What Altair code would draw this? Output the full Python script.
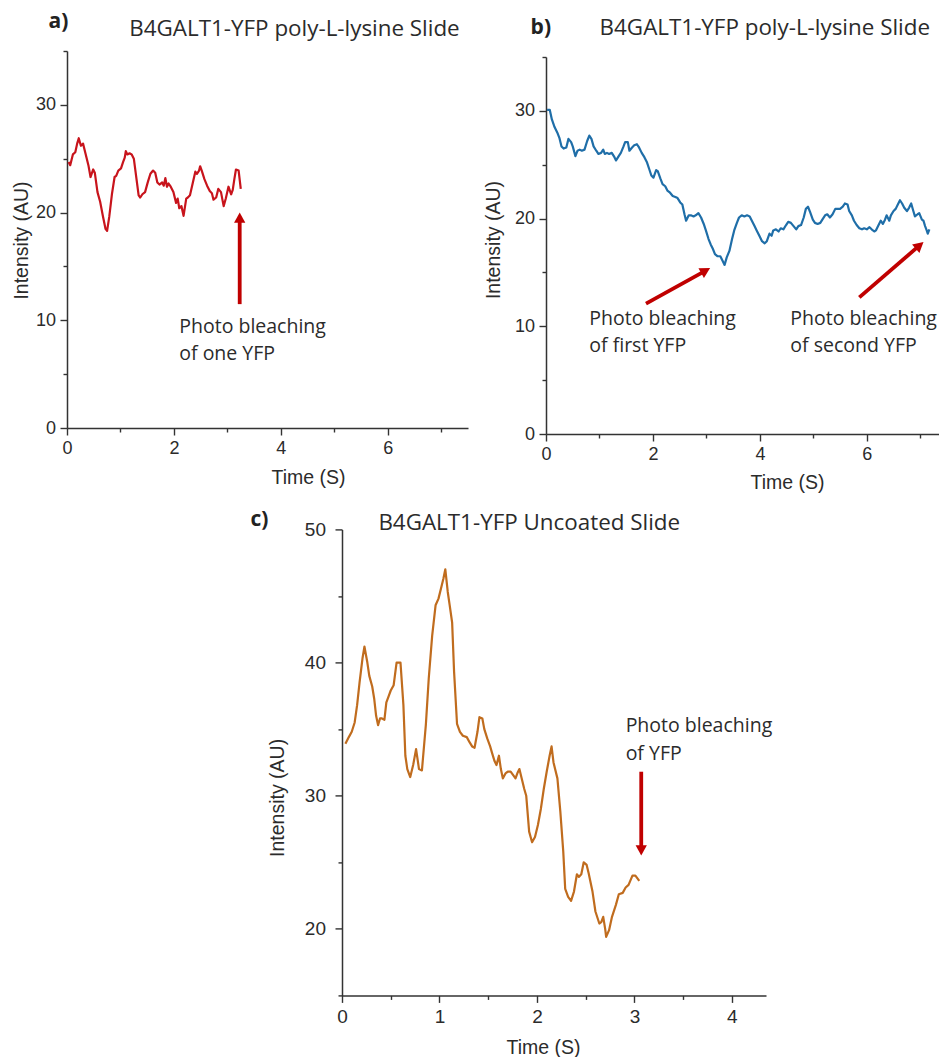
import math
import altair as alt
import pandas as pd

# ---------------- data ----------------
TITLE_AB = "B4GALT1-YFP poly-L-lysine Slide"
TITLE_C = "B4GALT1-YFP Uncoated Slide"

a_time = [0.03, 0.06, 0.11, 0.155, 0.19, 0.22, 0.26, 0.30, 0.34, 0.40,
          0.44, 0.49, 0.52, 0.57, 0.62, 0.67, 0.72, 0.75, 0.79, 0.84,
          0.89, 0.92, 0.96, 1.01, 1.05, 1.08, 1.10, 1.13, 1.17, 1.21,
          1.25, 1.30, 1.34, 1.37, 1.41, 1.46, 1.51, 1.56, 1.61, 1.65,
          1.69, 1.73, 1.78, 1.81, 1.84, 1.87, 1.90, 1.94, 1.99, 2.04,
          2.07, 2.10, 2.14, 2.18, 2.23, 2.26, 2.30, 2.35, 2.40, 2.43,
          2.47, 2.49, 2.52, 2.57, 2.62, 2.67, 2.71, 2.74, 2.79, 2.83,
          2.88, 2.93, 2.97, 3.02, 3.07, 3.10, 3.13, 3.16, 3.21, 3.25]
a_int = [24.7, 24.4, 25.4, 25.6, 26.4, 26.9, 26.2, 26.4, 25.6, 24.4,
         23.3, 24.0, 23.7, 21.9, 21.0, 19.7, 18.5, 18.3, 19.6, 21.7,
         23.3, 23.4, 23.9, 24.1, 24.7, 25.1, 25.7, 25.4, 25.5, 25.4,
         25.0, 23.1, 21.6, 21.4, 21.7, 21.9, 22.8, 23.6, 23.9, 23.7,
         22.8, 22.6, 22.8, 22.5, 23.2, 22.4, 22.7, 22.4, 21.9, 20.9,
         21.3, 20.4, 20.6, 19.7, 21.3, 21.4, 21.6, 22.7, 23.8, 23.6,
         23.9, 24.3, 23.9, 23.1, 22.5, 22.0, 21.8, 21.2, 21.4, 22.2,
         21.9, 20.6, 21.3, 22.4, 21.7, 22.1, 23.1, 24.0, 23.9, 22.2]

b_time = [0.02, 0.07, 0.11, 0.16, 0.21, 0.25, 0.29, 0.33, 0.38, 0.42,
          0.47, 0.50, 0.55, 0.59, 0.63, 0.67, 0.72, 0.77, 0.81, 0.85,
          0.89, 0.94, 0.98, 1.03, 1.07, 1.10, 1.14, 1.18, 1.23, 1.28,
          1.31, 1.36, 1.40, 1.45, 1.48, 1.53, 1.56, 1.61, 1.65, 1.70,
          1.74, 1.79, 1.84, 1.89, 1.93, 1.97, 2.01, 2.06, 2.09, 2.14,
          2.18, 2.23, 2.27, 2.32, 2.37, 2.42, 2.46, 2.51, 2.55, 2.59,
          2.62, 2.67, 2.71, 2.76, 2.80, 2.85, 2.90, 2.95, 2.99, 3.04,
          3.08, 3.12, 3.16, 3.21, 3.26, 3.30, 3.34, 3.38, 3.43, 3.48,
          3.52, 3.57, 3.61, 3.66, 3.71, 3.76, 3.81, 3.85, 3.90, 3.94,
          3.99, 4.04, 4.09, 4.13, 4.18, 4.22, 4.25, 4.30, 4.35, 4.39,
          4.44, 4.49, 4.53, 4.58, 4.63, 4.68, 4.72, 4.77, 4.82, 4.86,
          4.90, 4.94, 4.99, 5.03, 5.08, 5.13, 5.18, 5.22, 5.26, 5.31,
          5.36, 5.41, 5.46, 5.50, 5.55, 5.59, 5.64, 5.67, 5.72, 5.76,
          5.81, 5.86, 5.91, 5.95, 6.00, 6.05, 6.09, 6.14, 6.17, 6.22,
          6.26, 6.30, 6.34, 6.37, 6.42, 6.45, 6.50, 6.54, 6.58, 6.62,
          6.66, 6.70, 6.75, 6.79, 6.83, 6.87, 6.90, 6.95, 6.98, 7.03,
          7.06, 7.09, 7.12, 7.14, 7.17]
b_int = [30.1, 30.1, 29.2, 28.5, 28.0, 27.5, 26.7, 26.5, 26.6, 27.4,
         27.1, 26.7, 25.8, 26.3, 26.4, 26.3, 26.4, 27.2, 27.7, 27.4,
         26.7, 26.3, 26.0, 26.1, 26.4, 26.0, 26.1, 26.0, 26.1, 25.7,
         25.4, 25.8, 26.1, 26.7, 27.1, 27.1, 26.3, 26.6, 26.8, 26.9,
         26.6, 26.1, 25.7, 25.2, 24.6, 24.0, 23.8, 24.5, 24.4, 23.7,
         23.2, 23.0, 22.6, 22.4, 22.1, 22.0, 21.9, 21.5, 21.3, 20.4,
         19.8, 20.3, 20.3, 20.2, 20.3, 20.5, 20.1, 19.5, 18.9, 18.1,
         17.6, 17.2, 16.7, 16.5, 16.5, 16.1, 15.7, 16.4, 17.0, 18.1,
         18.9, 19.6, 20.1, 20.3, 20.2, 20.3, 20.2, 19.8, 19.3, 18.9,
         18.4, 17.9, 17.7, 17.9, 18.6, 18.4, 18.9, 19.0, 18.8, 19.1,
         19.0, 19.4, 19.7, 19.6, 19.3, 19.0, 19.3, 19.4, 20.1, 20.9,
         21.1, 20.6, 19.9, 19.6, 19.5, 19.6, 20.0, 20.3, 20.4, 20.1,
         20.4, 20.9, 20.9, 20.9, 21.1, 21.4, 21.3, 20.7, 20.3, 19.8,
         19.4, 19.1, 19.0, 19.1, 19.0, 19.2, 19.0, 18.8, 18.9, 19.4,
         19.8, 19.5, 19.9, 20.3, 19.8, 20.3, 20.7, 20.9, 21.3, 21.7,
         21.4, 21.0, 20.7, 21.0, 21.4, 20.7, 20.2, 20.4, 20.5, 19.9,
         19.8, 19.3, 18.9, 18.6, 19.0]

c_time = [0.035, 0.07, 0.10, 0.13, 0.155, 0.18, 0.21, 0.23, 0.26, 0.28,
          0.31, 0.33, 0.35, 0.37, 0.39, 0.41, 0.435, 0.455, 0.48, 0.50,
          0.53, 0.56, 0.58, 0.60, 0.63, 0.65, 0.67, 0.70, 0.73, 0.76,
          0.79, 0.82, 0.86, 0.89, 0.925, 0.96, 0.99, 1.02, 1.04, 1.06,
          1.085, 1.105, 1.13, 1.15, 1.18, 1.21, 1.24, 1.28, 1.31, 1.335,
          1.36, 1.39, 1.41, 1.44, 1.46, 1.49, 1.52, 1.54, 1.565, 1.585,
          1.61, 1.63, 1.65, 1.68, 1.70, 1.73, 1.76, 1.78, 1.80, 1.82,
          1.85, 1.87, 1.89, 1.92, 1.95, 1.98, 2.01, 2.04, 2.07, 2.10,
          2.13, 2.15, 2.17, 2.21, 2.24, 2.27, 2.29, 2.32, 2.35, 2.38,
          2.41, 2.43, 2.455, 2.48, 2.51, 2.53, 2.57, 2.60, 2.64, 2.66,
          2.68, 2.70, 2.71, 2.74, 2.77, 2.81, 2.84, 2.88, 2.91, 2.94,
          2.98, 3.01, 3.05]
c_int = [33.9, 34.4, 34.8, 35.5, 36.8, 38.5, 40.3, 41.2, 40.0, 39.0,
         38.2, 37.3, 36.0, 35.3, 35.8, 35.8, 35.7, 37.0, 37.5, 37.9,
         38.3, 40.0, 40.0, 40.0, 36.8, 33.0, 32.0, 31.4, 32.3, 33.5,
         32.0, 31.9, 35.3, 38.8, 42.0, 44.3, 44.8, 45.7, 46.3, 47.0,
         45.3, 44.3, 43.0, 39.3, 35.4, 34.8, 34.5, 34.4, 34.0, 33.7,
         33.6, 34.8, 35.9, 35.8, 35.0, 34.3, 33.7, 33.2, 32.6, 32.3,
         33.0, 32.0, 31.3, 31.7, 31.8, 31.8, 31.5, 31.3, 31.7, 32.0,
         31.1, 30.5, 30.0, 27.3, 26.5, 26.9, 27.8, 29.0, 30.5, 31.8,
         33.0, 33.7, 32.5, 31.3, 28.8, 25.8, 23.0, 22.4, 22.1, 22.8,
         24.1, 23.9, 24.1, 25.0, 24.8, 24.2, 22.8, 21.3, 20.4, 20.5,
         20.9, 20.0, 19.4, 19.9, 20.9, 21.8, 22.6, 22.7, 23.1, 23.3,
         24.0, 24.0, 23.6]

# annotation texts (x, y in data units)
a_note_x = [2.10, 2.10]
a_note_y = [9.40, 6.89]
a_note_txt = ["Photo bleaching", "of one YFP"]
b_note_x = [0.81, 0.81, 4.57, 4.57]
b_note_y = [10.67, 8.19, 10.67, 8.19]
b_note_txt = ["Photo bleaching", "of first YFP", "Photo bleaching", "of second YFP"]
c_note_x = [2.91, 2.91]
c_note_y = [35.25, 33.15]
c_note_txt = ["Photo bleaching", "of YFP"]

# arrows: tail -> tip (data units)
a_arrow_tail = [(3.23, 11.5)]
a_arrow_tip = [(3.23, 20.0)]
b_arrow_tail = [(1.87, 12.1), (5.86, 12.68)]
b_arrow_tip = [(3.07, 15.4), (7.06, 17.83)]
c_arrow_tail = [(3.07, 31.8)]
c_arrow_tip = [(3.07, 25.5)]

# ---------------- styling ----------------
TEXT_FONT = "Open Sans"
AXIS_FONT = "Liberation Sans"
INK = "#2b2b2b"
AXIS_INK = "#333333"
RED = "#c00000"
HEAD = "M0,0L-0.55,1L0.55,1Z"
HEAD_SIZE = 420  # scale = sqrt(size)/2 px per path unit
HEAD_LEN = math.sqrt(HEAD_SIZE) / 2


def make_axis(values, major_test, title, label_size, label_pad, title_x, title_y, is_y):
    return alt.Axis(
        values=values,
        format=".0f",
        labelExpr=f"({major_test}) ? datum.label : ''",
        tickSize={"condition": {"test": major_test, "value": 7}, "value": 4},
        tickWidth=1.4,
        tickColor=AXIS_INK,
        domainColor=AXIS_INK,
        domainWidth=1.5,
        grid=False,
        labelFont=AXIS_FONT,
        labelFontSize=label_size,
        labelColor=INK,
        labelPadding=label_pad,
        labelFlush=False,
        labelOverlap=False,
        title=title,
        titleFont=AXIS_FONT,
        titleFontSize=19.5,
        titleFontWeight="normal",
        titleColor=INK,
        titleX=title_x,
        titleY=title_y,
        titleAlign="center",
        titleBaseline="middle",
        titleAngle=270 if is_y else 0,
    )


def panel(t, v, color, xdom, ydom, w, h, xaxis, yaxis, notes, tails, tips,
          title_text, title_dx, title_dy, tag, tag_dx, tag_dy):
    xs = alt.Scale(domain=xdom, nice=False, zero=False)
    ys = alt.Scale(domain=ydom, nice=False, zero=False)
    line = alt.Chart(pd.DataFrame({"t": t, "v": v})).mark_line(
        color=color, strokeWidth=2.2, strokeJoin="round"
    ).encode(
        x=alt.X("t:Q", scale=xs, axis=xaxis),
        y=alt.Y("v:Q", scale=ys, axis=yaxis),
    )
    nx, ny, nt = notes
    text = alt.Chart(pd.DataFrame({"t": nx, "v": ny, "label": nt})).mark_text(
        align="left", baseline="middle", font=TEXT_FONT, fontSize=19.5, color=INK
    ).encode(
        x=alt.X("t:Q", scale=xs), y=alt.Y("v:Q", scale=ys), text="label:N"
    )
    # arrow geometry, pixel-aware so the head sits exactly on the tip
    sx = w / (xdom[1] - xdom[0])
    sy = h / (ydom[1] - ydom[0])
    rows = []
    for (x0, y0), (x1, y1) in zip(tails, tips):
        dx = (x1 - x0) * sx
        dy = -(y1 - y0) * sy
        L = math.hypot(dx, dy)
        ux, uy = dx / L, dy / L
        back = HEAD_LEN * 0.85
        ex = x1 - ux * back / sx
        ey = y1 + uy * back / sy
        ang = math.degrees(math.atan2(dx, -dy)) % 360
        rows.append({"t": x0, "v": y0, "t2": ex, "v2": ey, "tt": x1, "tv": y1, "ang": ang})
    adf = pd.DataFrame(rows)
    shaft = alt.Chart(adf).mark_rule(color=RED, strokeWidth=3.8, strokeCap="butt").encode(
        x=alt.X("t:Q", scale=xs), y=alt.Y("v:Q", scale=ys), x2="t2:Q", y2="v2:Q"
    )
    head = alt.Chart(adf).mark_point(
        shape=HEAD, filled=True, color=RED, opacity=1, size=HEAD_SIZE, strokeWidth=0
    ).encode(
        x=alt.X("tt:Q", scale=xs), y=alt.Y("tv:Q", scale=ys),
        angle=alt.Angle("ang:Q", scale=None),
    )
    one = pd.DataFrame({"k": [0]})
    ttl = alt.Chart(one).mark_text(
        align="left", baseline="alphabetic", font=TEXT_FONT, fontSize=22.4, color=INK
    ).encode(x=alt.value(title_dx), y=alt.value(title_dy), text=alt.value(title_text))
    lab = alt.Chart(one).mark_text(
        align="right", baseline="alphabetic", font=TEXT_FONT, fontSize=21,
        fontWeight="bold", color="#222222"
    ).encode(x=alt.value(tag_dx), y=alt.value(tag_dy), text=alt.value(tag))
    return alt.layer(line, text, shaft, head, ttl, lab).properties(width=w, height=h)


def spacer(w, h):
    return alt.Chart(pd.DataFrame({"k": [0]})).mark_text(text="").encode(
        x=alt.value(0), y=alt.value(0)
    ).properties(width=w, height=h)


# panel a
ax_a = make_axis(list(range(0, 8)), "datum.value % 2 === 0", "Time (S)", 18, 4, 241, 49, False)
ay_a = make_axis(list(range(0, 36, 5)), "datum.value % 10 === 0", "Intensity (AU)", 18, 4.5, -46, 189, True)
pa = panel(a_time, a_int, "#c8141c", [0, 7.5], [0, 35], 401, 377, ax_a, ay_a,
           (a_note_x, a_note_y, a_note_txt), a_arrow_tail, a_arrow_tip,
           TITLE_AB, 62.3, -15.3, "a)", 1.3, -23.5)

# panel b
ax_b = make_axis(list(range(0, 8)), "datum.value % 2 === 0", "Time (S)", 18, 4, 241, 48.3, False)
ay_b = make_axis(list(range(0, 36, 5)), "datum.value % 10 === 0", "Intensity (AU)", 18, 4.5, -53, 182.5, True)
pb = panel(b_time, b_int, "#1f6ea8", [0, 7.35], [0, 35], 393, 377, ax_b, ay_b,
           (b_note_x, b_note_y, b_note_txt), b_arrow_tail, b_arrow_tip,
           TITLE_AB, 53.6, -21.6, "b)", 5, -23.3)

# panel c
ax_c = make_axis([i / 2 for i in range(0, 9)], "datum.value % 1 === 0", "Time (S)", 19, 5, 201, 51.6, False)
ay_c = make_axis(list(range(15, 51, 5)), "datum.value % 10 === 0", "Intensity (AU)", 19, 9.5, -65, 268, True)
pc = panel(c_time, c_int, "#c06c1e", [0, 4.35], [15, 50], 424, 466, ax_c, ay_c,
           (c_note_x, c_note_y, c_note_txt), c_arrow_tail, c_arrow_tip,
           TITLE_C, 36.4, 1.0, "c)", -73.6, -3.7)

row1 = alt.hconcat(
    pa,
    alt.vconcat(spacer(1, 1), pb, spacing=5, bounds="flush"),
    spacing=78, bounds="flush",
)
row2 = alt.hconcat(spacer(270, 1), pc, spacing=5, bounds="flush")

# nested concat rows count as zero height in a flush layout, so the
# spacing here is the full offset from the top of row 1 to the top of panel c
chart = alt.vconcat(row1, row2, spacing=478.4, bounds="flush").properties(
    padding={"left": 11, "top": 10, "right": 0, "bottom": 0},
    background="white",
).configure_view(stroke=None)

chart.save("out.html", embed_options={"renderer": "svg", "actions": False})
